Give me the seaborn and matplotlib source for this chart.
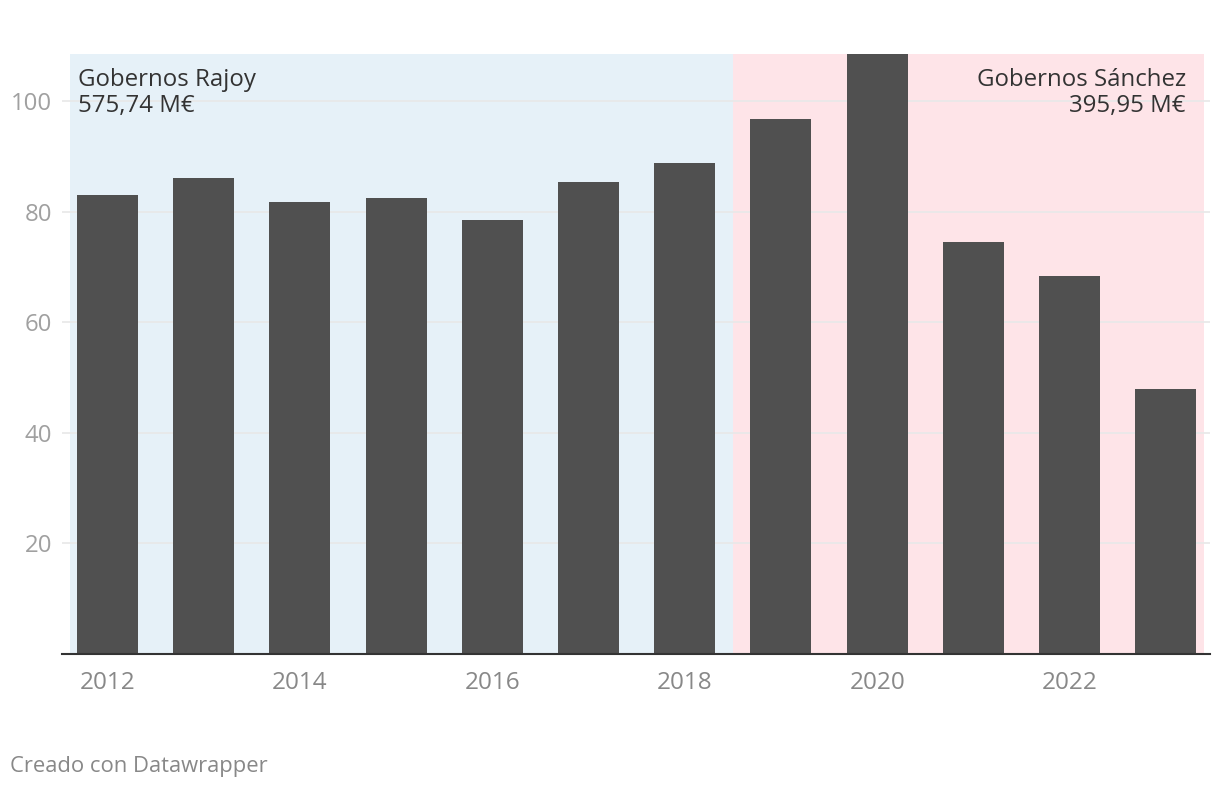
import matplotlib
matplotlib.use("Agg")
import matplotlib.pyplot as plt
import seaborn as sns
import pandas as pd

years = [2012, 2013, 2014, 2015, 2016, 2017, 2018, 2019, 2020, 2021, 2022, 2023]
values = [83.0, 86.1, 81.7, 82.5, 78.5, 85.4, 88.8, 96.7, 108.5, 74.5, 68.4, 47.9]
tick_years = [2012, 2014, 2016, 2018, 2020, 2022]
yticks = [20, 40, 60, 80, 100]
label_rajoy = "Gobernos Rajoy\n575,74 M€"
label_sanchez = "Gobernos Sánchez\n395,95 M€"
footer = "Creado con Datawrapper"

sns.set_theme(style="white")
plt.rcParams['font.family'] = ['Open Sans', 'DejaVu Sans']

df = pd.DataFrame({"year": [str(y) for y in years], "value": values})

fig = plt.figure(figsize=(12.2, 7.88), dpi=100)
ax = fig.add_axes([62/1220, (788-654)/788, 1148/1220, 600/788])

# period backgrounds
ax.axvspan(-0.39, 6.50, color="#e6f1f8", zorder=0, lw=0)
ax.axvspan(6.50, 11.40, color="#fee4e8", zorder=0, lw=0)

sns.barplot(data=df, x="year", y="value", color="#505050", saturation=1,
            width=0.634, ax=ax, zorder=3, linewidth=0, edgecolor="none")

ax.set_xlim(-0.473, 11.46)
ax.set_ylim(0, 108.5)
ax.set_xlabel("")
ax.set_ylabel("")

ax.set_yticks(yticks)
ax.set_yticklabels([str(v) for v in yticks])
ax.yaxis.grid(True, color="#e8e8e8", lw=1.2, zorder=1)
ax.set_axisbelow(False)
for gl in ax.get_ygridlines():
    gl.set_zorder(1)

pos = [years.index(y) for y in tick_years]
ax.set_xticks(pos)
ax.set_xticklabels([str(y) for y in tick_years])

ax.tick_params(axis="y", length=0, pad=7, labelsize=17.3, labelcolor="#a0a0a0")
ax.tick_params(axis="x", length=0, pad=12, labelsize=17.5, labelcolor="#888888")

for s in ["left", "right", "top"]:
    ax.spines[s].set_visible(False)
ax.spines["bottom"].set_color("#333333")
ax.spines["bottom"].set_linewidth(1.5)
ax.spines["bottom"].set_zorder(5)

tr = ax.get_xaxis_transform()
ax.text(-0.307, 0.977, label_rajoy, transform=tr, ha="left", va="top",
        fontsize=17.3, color="#333333", linespacing=1.1, zorder=6)
ax.text(11.21, 0.977, label_sanchez, transform=tr, ha="right", va="top",
        fontsize=17.3, color="#333333", linespacing=1.1, zorder=6,
        multialignment="right")

fig.text(10/1220, (788-772)/788, footer, ha="left", va="baseline",
         fontsize=15.8, color="#888888")

fig.savefig("out.png", dpi=100, facecolor="white")
